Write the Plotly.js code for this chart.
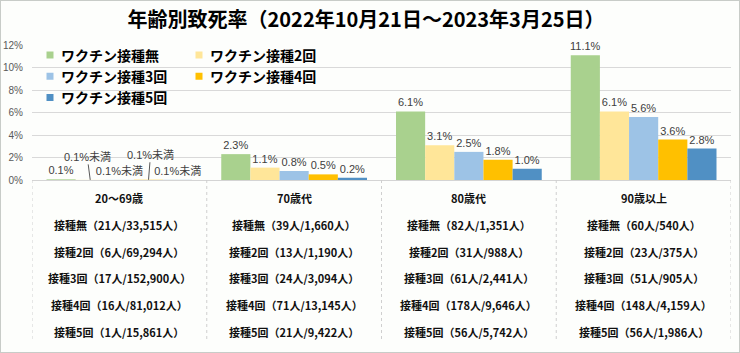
<!DOCTYPE html>
<html>
<head>
<meta charset="utf-8">
<script src="https://cdn.plot.ly/plotly-3.0.1.min.js"></script>
<style>
  html, body { margin: 0; padding: 0; background: #fff; }
  #wrap { position: relative; width: 740px; height: 353px; }
  #chart { width: 740px; height: 353px; }
  #frame { position: absolute; left: 0; top: 0; width: 738px; height: 351px; border: 1px solid #c8ccc8; pointer-events: none; }
</style>
</head>
<body>
<div id="wrap"><div id="chart"></div><div id="frame"></div></div>
<script>
// ---- data ----
const categories = ['20～69歳', '70歳代', '80歳代', '90歳以上'];
const seriesNames = ['ワクチン接種無', 'ワクチン接種2回', 'ワクチン接種3回', 'ワクチン接種4回', 'ワクチン接種5回'];
const rateNone = [0.06, 2.3, 6.1, 11.1];
const rate2 = [0.01, 1.1, 3.1, 6.1];
const rate3 = [0.01, 0.8, 2.5, 5.6];
const rate4 = [0.02, 0.5, 1.8, 3.6];
const rate5 = [0.01, 0.2, 1.0, 2.8];
const labelNone = ['0.1%', '2.3%', '6.1%', '11.1%'];
const label2 = ['0.1%未満', '1.1%', '3.1%', '6.1%'];
const label3 = ['0.1%未満', '0.8%', '2.5%', '5.6%'];
const label4 = ['0.1%未満', '0.5%', '1.8%', '3.6%'];
const label5 = ['0.1%未満', '0.2%', '1.0%', '2.8%'];
const doseNames = ['接種無', '接種2回', '接種3回', '接種4回', '接種5回'];
const deaths20 = [21, 6, 17, 16, 1];
const pop20 = [33515, 69294, 152900, 81012, 15861];
const deaths70 = [39, 13, 24, 71, 21];
const pop70 = [1660, 1190, 3094, 13145, 9422];
const deaths80 = [82, 31, 61, 178, 56];
const pop80 = [1351, 988, 2441, 9646, 5742];
const deaths90 = [60, 23, 51, 148, 56];
const pop90 = [540, 375, 905, 4159, 1986];

// ---- styling ----
const colors = ['#A9D18E', '#FFE699', '#9DC3E6', '#FFC000', '#5090C4'];
const W = 740, H = 353;
const margin = {l: 32, r: 9, t: 45, b: 173};
const bargap = 0.166;
const plotH = H - margin.t - margin.b;
const plotW = W - margin.l - margin.r;
const pyToPaper = py => (H - margin.b - py) / plotH;
const barW = plotW / categories.length * (1 - bargap) / seriesNames.length;

const rates = [rateNone, rate2, rate3, rate4, rate5];
const labels = [labelNone, label2, label3, label4, label5];
const leaderSeries = {1: {ax: -3, ay: -23}, 3: {ax: 2, ay: -25}};
const legendOf = ['legend', 'legend2', 'legend', 'legend2', 'legend'];

const labelFont = {family: 'Liberation Sans, Noto Sans CJK JP, sans-serif', size: 11, color: '#404040'};

const traces = seriesNames.map((name, i) => ({
  type: 'bar',
  name: name,
  x: categories,
  y: rates[i],
  marker: {color: colors[i]},
  text: labels[i].map((t, j) => (j === 0 && leaderSeries[i]) ? '' : t),
  textposition: 'outside',
  constraintext: 'none',
  cliponaxis: false,
  outsidetextfont: labelFont,
  hoverinfo: 'skip',
  legend: legendOf[i]
}));

const annotations = [];
// leader-line labels in the first group
Object.keys(leaderSeries).forEach(k => {
  const i = +k;
  annotations.push({
    x: categories[0], y: rates[i][0], xref: 'x', yref: 'y',
    xshift: (i - (seriesNames.length - 1) / 2) * barW,
    text: labels[i][0], font: labelFont,
    showarrow: true, arrowhead: 0, arrowwidth: 1, arrowcolor: '#595959',
    ax: leaderSeries[i].ax, ay: leaderSeries[i].ay
  });
});

// table below the axis
const deathsBy = [deaths20, deaths70, deaths80, deaths90];
const popBy = [pop20, pop70, pop80, pop90];
const tableFont = {family: 'Noto Sans CJK JP, sans-serif', size: 11, color: '#111'};
const rowTop = 198, rowStep = 26.8;
categories.forEach((c, g) => {
  annotations.push({
    x: c, xref: 'x', y: pyToPaper(rowTop), yref: 'paper', yanchor: 'middle',
    text: '<b>' + c + '</b>', showarrow: false, font: tableFont
  });
  doseNames.forEach((d, r) => {
    annotations.push({
      x: c, xref: 'x', y: pyToPaper(rowTop + (r + 1) * rowStep), yref: 'paper', yanchor: 'middle',
      text: '<b>' + d + '（' + deathsBy[g][r] + '人/' + popBy[g][r].toLocaleString('en-US') + '人）</b>',
      showarrow: false, font: tableFont
    });
  });
});

const shapes = [];
for (let k = 0; k <= categories.length; k++) {
  shapes.push({
    type: 'line', xref: 'x', yref: 'paper', x0: k - 0.5, x1: k - 0.5,
    y0: 0, y1: pyToPaper(342), line: {color: '#cfcfcf', width: 1, dash: 'dot'}
  });
}

const legendFont = {family: 'Noto Sans CJK JP, sans-serif', size: 14, color: '#000', weight: 'bold'};

const layout = {
  width: W, height: H,
  margin: margin,
  paper_bgcolor: '#fdfefc',
  plot_bgcolor: 'rgba(0,0,0,0)',
  barmode: 'group',
  bargap: bargap,
  bargroupgap: 0,
  title: {
    text: '<b>年齢別致死率（2022年10月21日～2023年3月25日）</b>',
    font: {family: 'Noto Sans CJK JP, sans-serif', size: 20, color: '#000'},
    x: 366 / W, xanchor: 'center', xref: 'container',
    y: 1 - 20 / H, yanchor: 'middle', yref: 'container'
  },
  xaxis: {
    type: 'category', range: [-0.5, categories.length - 0.5],
    showticklabels: false, showgrid: false, zeroline: false,
    showline: true, linecolor: '#d4d4d4', linewidth: 1, fixedrange: true
  },
  yaxis: {
    range: [0, 12], dtick: 2, ticksuffix: '%',
    tickfont: {family: 'Liberation Sans, sans-serif', size: 10, color: '#595959'},
    gridcolor: '#d9d9d9', gridwidth: 1, zeroline: false, showline: false,
    ticklabelstandoff: 8, fixedrange: true
  },
  legend: {
    x: (21 - margin.l) / plotW, xanchor: 'left',
    y: pyToPaper(39.5), yanchor: 'top',
    bgcolor: 'rgba(0,0,0,0)', font: legendFont, orientation: 'v'
  },
  legend2: {
    x: (170 - margin.l) / plotW, xanchor: 'left',
    y: pyToPaper(39.5), yanchor: 'top',
    bgcolor: 'rgba(0,0,0,0)', font: legendFont, orientation: 'v'
  },
  annotations: annotations,
  shapes: shapes,
  showlegend: true
};

Plotly.newPlot('chart', traces, layout, {staticPlot: true, displayModeBar: false}).then(gd => {
  gd.querySelectorAll('.legendpoints path').forEach(p => {
    p.setAttribute('d', 'M12.5,3.5H5.5V-3.5H12.5Z');
  });
});
</script>
</body>
</html>
